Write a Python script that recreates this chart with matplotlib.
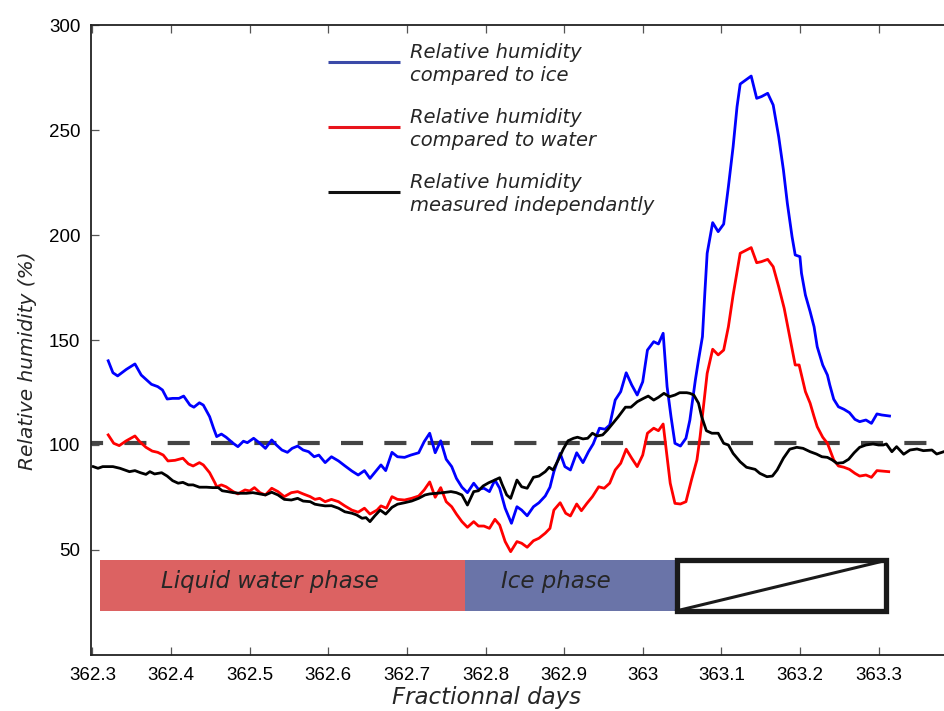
import matplotlib
matplotlib.use('Agg')
import matplotlib.pyplot as plt
from matplotlib.patches import Rectangle

# relative humidity with respect to ice (blue)
ice_days = [362.320, 362.326, 362.332, 362.343, 362.354, 362.362, 362.375, 362.383, 362.389, 362.395,
            362.402, 362.410, 362.416, 362.424, 362.429, 362.436, 362.441, 362.449, 362.454, 362.458,
            362.464, 362.470, 362.479, 362.485, 362.492, 362.497, 362.505, 362.513, 362.520, 362.528,
            362.534, 362.541, 362.548, 362.554, 362.561, 362.568, 362.575, 362.582, 362.588, 362.596,
            362.604, 362.613, 362.621, 362.630, 362.638, 362.646, 362.653, 362.660, 362.667, 362.673,
            362.681, 362.688, 362.697, 362.705, 362.715, 362.722, 362.729, 362.736, 362.743, 362.750,
            362.757, 362.763, 362.770, 362.777, 362.785, 362.791, 362.798, 362.805, 362.812, 362.818,
            362.825, 362.833, 362.840, 362.846, 362.853, 362.861, 362.868, 362.876, 362.882, 362.887,
            362.895, 362.901, 362.908, 362.916, 362.924, 362.931, 362.937, 362.945, 362.952, 362.958,
            362.965, 362.972, 362.979, 362.986, 362.993, 363.000, 363.006, 363.014, 363.020, 363.026,
            363.031, 363.036, 363.041, 363.048, 363.055, 363.060, 363.067, 363.071, 363.076, 363.079,
            363.082, 363.089, 363.096, 363.103, 363.109, 363.115, 363.120, 363.124, 363.138, 363.145,
            363.151, 363.159, 363.166, 363.173, 363.179, 363.184, 363.190, 363.194, 363.200, 363.202,
            363.207, 363.213, 363.218, 363.222, 363.229, 363.235, 363.238, 363.243, 363.249, 363.256,
            363.263, 363.270, 363.276, 363.284, 363.291, 363.298, 363.304, 363.314]
ice_rh = [140.1, 134.4, 132.9, 136.0, 138.6, 133.3, 128.9, 127.8, 126.2, 121.9,
          122.2, 122.2, 123.3, 119.0, 118.0, 120.1, 119.0, 113.5, 108.0, 104.0,
          105.2, 103.7, 100.8, 99.2, 101.8, 101.1, 103.2, 100.8, 98.4, 102.4,
          100.0, 97.6, 96.5, 98.4, 99.5, 97.6, 96.8, 94.4, 95.2, 91.6,
          94.4, 92.4, 90.1, 87.6, 85.7, 87.8, 84.1, 87.3, 90.5, 87.8,
          96.5, 94.4, 94.1, 95.2, 96.3, 101.6, 105.6, 96.3, 102.0, 93.2,
          89.7, 84.1, 79.9, 77.3, 81.8, 78.9, 79.4, 77.8, 83.3, 79.4,
          69.9, 62.7, 70.6, 69.0, 66.3, 70.6, 72.5, 75.7, 79.9, 87.3,
          96.0, 89.7, 88.1, 96.3, 91.6, 96.8, 100.5, 108.0, 107.5, 109.5,
          121.4, 125.4, 134.4, 128.6, 123.8, 130.1, 145.2, 149.2, 148.1, 153.2,
          127.8, 113.5, 100.8, 99.5, 103.2, 111.9, 131.0, 140.5, 151.6, 172.2,
          191.3, 205.9, 201.6, 205.2, 223.0, 242.0, 261.1, 271.9, 275.7, 265.1,
          265.9, 267.5, 261.9, 246.8, 231.0, 215.1, 199.2, 190.5, 189.7, 181.8,
          171.4, 163.5, 156.3, 146.8, 138.1, 133.3, 128.6, 121.8, 118.2, 117.0,
          115.4, 112.2, 111.1, 111.9, 110.3, 114.8, 114.3, 113.8]

# relative humidity with respect to liquid water (red)
water_days = [362.320, 362.327, 362.334, 362.343, 362.354, 362.360, 362.368, 362.376, 362.383, 362.390,
              362.396, 362.405, 362.415, 362.422, 362.428, 362.436, 362.441, 362.449, 362.456, 362.458,
              362.464, 362.470, 362.479, 362.485, 362.494, 362.500, 362.506, 362.513, 362.520, 362.528,
              362.536, 362.544, 362.553, 362.561, 362.568, 362.577, 362.583, 362.589, 362.596, 362.604,
              362.613, 362.621, 362.630, 362.638, 362.646, 362.653, 362.662, 362.667, 362.674, 362.681,
              362.688, 362.697, 362.706, 362.715, 362.722, 362.729, 362.736, 362.743, 362.750, 362.757,
              362.763, 362.770, 362.777, 362.785, 362.791, 362.798, 362.805, 362.812, 362.818, 362.825,
              362.832, 362.840, 362.846, 362.853, 362.861, 362.868, 362.876, 362.882, 362.887, 362.895,
              362.902, 362.908, 362.916, 362.922, 362.929, 362.936, 362.944, 362.951, 362.958, 362.965,
              362.972, 362.979, 362.986, 362.993, 363.000, 363.006, 363.014, 363.020, 363.026, 363.031,
              363.035, 363.041, 363.048, 363.055, 363.062, 363.069, 363.073, 363.078, 363.082, 363.089,
              363.096, 363.103, 363.109, 363.115, 363.124, 363.138, 363.145, 363.151, 363.159, 363.166,
              363.173, 363.180, 363.187, 363.194, 363.199, 363.207, 363.213, 363.218, 363.222, 363.229,
              363.235, 363.243, 363.249, 363.256, 363.263, 363.270, 363.276, 363.284, 363.291, 363.298,
              363.304, 363.313]
water_rh = [104.8, 100.8, 99.7, 102.0, 104.3, 101.6, 98.9, 97.1, 96.5, 95.2,
            92.4, 92.7, 93.7, 91.0, 90.0, 91.6, 90.5, 86.8, 81.8, 80.1,
            81.0, 80.1, 77.8, 76.7, 78.6, 78.1, 79.7, 77.3, 76.2, 79.4,
            77.8, 75.4, 77.3, 77.8, 76.7, 75.4, 74.1, 74.6, 73.0, 74.1,
            73.0, 71.0, 69.0, 68.0, 69.9, 67.1, 69.0, 71.0, 69.9, 75.4,
            74.1, 73.8, 74.6, 75.7, 78.6, 82.4, 75.1, 79.7, 73.0, 70.6,
            67.1, 63.5, 60.8, 63.5, 61.4, 61.4, 60.3, 64.6, 61.9, 54.0,
            49.2, 54.0, 53.2, 51.3, 54.4, 55.6, 58.0, 60.3, 69.0, 72.5,
            67.5, 66.2, 71.9, 68.7, 72.2, 75.4, 80.1, 79.4, 81.8, 88.1,
            91.3, 98.0, 93.7, 89.7, 95.2, 105.6, 108.0, 106.8, 110.0, 94.4,
            81.8, 72.2, 71.9, 73.0, 83.3, 92.9, 104.0, 120.6, 134.1, 145.6,
            142.9, 145.2, 156.3, 171.4, 191.3, 194.0, 186.8, 187.3, 188.4, 184.9,
            175.4, 165.1, 151.6, 138.1, 138.1, 125.4, 119.9, 113.5, 108.7, 103.7,
            100.8, 92.9, 90.0, 89.4, 88.4, 86.5, 85.2, 85.7, 84.6, 87.8,
            87.6, 87.3]

# independent hygrometer (black)
measured_days = [362.301, 362.307, 362.313, 362.326, 362.335, 362.347, 362.354, 362.361, 362.368, 362.373,
                 362.379, 362.388, 362.395, 362.402, 362.409, 362.415, 362.422, 362.428, 362.436, 362.445,
                 362.453, 362.460, 362.465, 362.472, 362.479, 362.487, 362.496, 362.504, 362.513, 362.520,
                 362.528, 362.536, 362.544, 362.553, 362.561, 362.568, 362.577, 362.583, 362.589, 362.596,
                 362.604, 362.613, 362.621, 362.630, 362.636, 362.643, 362.648, 362.653, 362.659, 362.666,
                 362.673, 362.681, 362.688, 362.697, 362.706, 362.715, 362.723, 362.729, 362.738, 362.746,
                 362.756, 362.763, 362.770, 362.777, 362.785, 362.791, 362.797, 362.804, 362.810, 362.818,
                 362.821, 362.827, 362.832, 362.840, 362.846, 362.853, 362.861, 362.868, 362.876, 362.881,
                 362.886, 362.893, 362.899, 362.905, 362.912, 362.917, 362.924, 362.930, 362.936, 362.942,
                 362.949, 362.955, 362.962, 362.969, 362.978, 362.985, 362.993, 363.001, 363.007, 363.014,
                 363.020, 363.027, 363.034, 363.041, 363.047, 363.056, 363.060, 363.065, 363.071, 363.075,
                 363.081, 363.088, 363.096, 363.103, 363.109, 363.115, 363.124, 363.132, 363.143, 363.149,
                 363.158, 363.165, 363.171, 363.179, 363.187, 363.196, 363.204, 363.213, 363.221, 363.228,
                 363.235, 363.241, 363.247, 363.255, 363.262, 363.269, 363.276, 363.284, 363.293, 363.300,
                 363.306, 363.310, 363.317, 363.323, 363.332, 363.340, 363.349, 363.357, 363.368, 363.374,
                 363.383]
measured_rh = [89.7, 88.9, 89.7, 89.7, 88.9, 87.3, 87.8, 86.8, 86.0, 87.3,
               86.2, 86.8, 85.2, 83.0, 81.8, 82.2, 81.0, 81.0, 79.9, 79.9,
               79.7, 79.7, 78.2, 77.8, 77.3, 77.0, 77.0, 77.3, 76.7, 76.2,
               77.5, 76.2, 74.1, 73.8, 74.6, 73.3, 73.0, 71.8, 71.4, 71.0,
               71.1, 69.9, 68.2, 67.5, 66.7, 65.1, 65.4, 63.5, 66.2, 69.0,
               67.1, 70.3, 71.8, 72.5, 73.3, 74.6, 76.2, 76.7, 77.0, 77.3,
               77.8, 77.3, 76.2, 71.4, 77.8, 78.2, 80.5, 82.0, 83.0, 84.4,
               81.4, 76.2, 74.6, 83.3, 80.1, 79.4, 84.6, 85.2, 87.3, 89.4,
               88.1, 93.2, 98.1, 102.0, 103.2, 103.7, 102.9, 103.2, 105.6, 104.3,
               104.8, 107.1, 110.3, 113.5, 118.0, 118.0, 120.6, 122.2, 123.3, 121.4,
               122.7, 124.6, 123.0, 123.8, 124.9, 124.9, 124.6, 123.8, 119.9, 113.5,
               106.8, 105.6, 105.6, 100.8, 100.0, 96.0, 92.0, 89.4, 88.4, 86.5,
               84.9, 85.2, 88.1, 93.7, 98.0, 98.9, 98.4, 96.8, 95.7, 94.4,
               94.1, 92.9, 91.3, 91.6, 93.2, 96.3, 98.9, 100.0, 100.5, 100.0,
               100.0, 100.5, 96.8, 99.2, 95.6, 97.6, 98.1, 97.3, 97.6, 95.7,
               96.8]

saturation = 101

# phase bands drawn under the curves
phase_starts = [362.309, 362.774]
phase_ends = [362.774, 363.041]
phase_names = ['Liquid water phase', 'Ice phase']
phase_label_days = [362.526, 362.890]
phase_colors = ['#dc6262', '#6a74a8']
unknown_start, unknown_end = 363.043, 363.309
band_low, band_high = 21, 45

tick_days = [362.3, 362.4, 362.5, 362.6, 362.7, 362.8, 362.9, 363.0, 363.1, 363.2, 363.3]
tick_labels = ['362.3', '362.4', '362.5', '362.6', '362.7', '362.8', '362.9', '363',
               '363.1', '363.2', '363.3']
rh_ticks = [50, 100, 150, 200, 250, 300]

legend_labels = ['Relative humidity\ncompared to ice',
                 'Relative humidity\ncompared to water',
                 'Relative humidity\nmeasured independantly']
legend_colors = ['#3b4aa8', '#e8141c', '#111111']

text_color = '#262626'
italic = dict(family='DejaVu Sans', style='italic', color=text_color)

fig = plt.figure(figsize=(9.44, 7.11), dpi=100)
ax = fig.add_axes([0.0969, 0.0788, 0.917, 0.886])

ax.plot(ice_days, ice_rh, color='#0000ff', lw=2.0, zorder=3)
ax.plot(water_days, water_rh, color='#ff0000', lw=2.0, zorder=3)
ax.plot(measured_days, measured_rh, color='black', lw=2.0, zorder=3)
ax.axhline(saturation, color='#444444', lw=3, dash_capstyle='butt',
           linestyle=(2.4, (5.3, 5.1)), zorder=2)

widths = [e - s for s, e in zip(phase_starts, phase_ends)]
ax.barh((band_low + band_high) / 2, widths, left=phase_starts,
        height=band_high - band_low, color=phase_colors, zorder=1)
for xd, name in zip(phase_label_days, phase_names):
    ax.text(xd, 35, name, ha='center', va='center', fontsize=16.5, **italic)

ax.add_patch(Rectangle((unknown_start, band_low), unknown_end - unknown_start,
                       band_high - band_low, fill=False, ec='#1a1a1a', lw=3.8, zorder=2))
ax.plot([unknown_start, unknown_end], [band_low, band_high], color='#1a1a1a', lw=2.2, zorder=2)

# legend entries laid out by hand so each handle sits between its two text lines
for i, (label, c) in enumerate(zip(legend_labels, legend_colors)):
    yy = 0.941 - i * 0.1028
    ax.plot([0.2732, 0.3564], [yy, yy], color=c, lw=2.2, transform=ax.transAxes,
            solid_capstyle='butt')
    ax.text(0.368, yy - 0.003, label, transform=ax.transAxes, ha='left', va='center',
            fontsize=14, linespacing=1.28, **italic)

ax.set_xlim(362.2987, 363.40)
ax.set_ylim(0, 300)
ax.set_xticks(tick_days)
ax.set_xticklabels(tick_labels)
ax.set_yticks(rh_ticks)

for lab in ax.get_xticklabels() + ax.get_yticklabels():
    lab.set_family('Liberation Sans')
    lab.set_fontsize(13.5)

ax.tick_params(direction='in', top=True, right=True, length=6, width=0.9,
               color='#555555', labelcolor='black')
ax.tick_params(axis='x', pad=9)
ax.tick_params(axis='y', pad=8)
for sp in ax.spines.values():
    sp.set_linewidth(1.3)
    sp.set_color('#222222')

ax.set_xlabel('Fractionnal days', fontsize=16.5, **italic)
ax.set_ylabel('Relative humidity (%)', fontsize=14.5, **italic)
ax.xaxis.set_label_coords(0.4558, -0.049)
ax.yaxis.set_label_coords(-0.063, 0.467)

fig.savefig('out.png', dpi=100)
